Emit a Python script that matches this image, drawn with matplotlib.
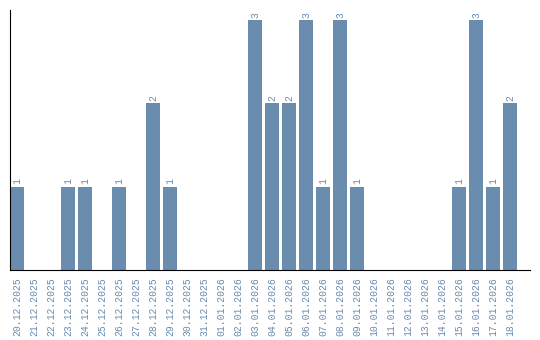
import numpy as np
import matplotlib.pyplot as plt

dates = ['20.12.2025', '21.12.2025', '22.12.2025', '23.12.2025', '24.12.2025',
         '25.12.2025', '26.12.2025', '27.12.2025', '28.12.2025', '29.12.2025',
         '30.12.2025', '31.12.2025', '01.01.2026', '02.01.2026', '03.01.2026',
         '04.01.2026', '05.01.2026', '06.01.2026', '07.01.2026', '08.01.2026',
         '09.01.2026', '10.01.2026', '11.01.2026', '12.01.2026', '13.01.2026',
         '14.01.2026', '15.01.2026', '16.01.2026', '17.01.2026', '18.01.2026']
counts = [1, 0, 0, 1, 1, 0, 1, 0, 2, 1,
          0, 0, 0, 0, 3, 2, 2, 3, 1, 3,
          1, 0, 0, 0, 0, 0, 1, 3, 1, 2]

color = '#6a8caf'
plt.rcParams['font.family'] = ['Liberation Mono', 'DejaVu Sans Mono']

fig = plt.figure(figsize=(5.4, 3.4), dpi=100)
ax = fig.add_axes([10/540, 70/340, 520/540, 260/340])

x = np.arange(len(dates))
ax.bar(x, counts, width=0.82, color=color)
for xi, c in zip(x, counts):
    if c > 0:
        ax.text(xi, c + 0.03, str(c), rotation=90, ha='center', va='bottom',
                fontsize=7, color=color)

ax.set_xlim(-0.41, 30.18)
ax.set_ylim(0, 3.12)
ax.set_xticks(x)
ax.set_xticklabels(dates, rotation=90, fontsize=7, color=color)
ax.set_yticks([])
ax.tick_params(axis='x', length=0, pad=5)
ax.spines['right'].set_visible(False)
ax.spines['top'].set_visible(False)
ax.spines['left'].set_color('black')
ax.spines['bottom'].set_color('black')

fig.savefig('out.png', dpi=100)
